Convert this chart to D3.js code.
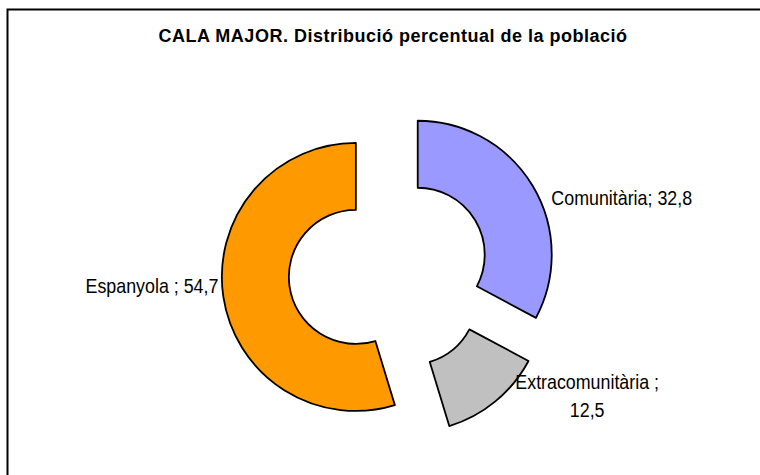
<!DOCTYPE html>
<html>
<head>
<meta charset="utf-8">
<script src="https://cdn.jsdelivr.net/npm/d3@7"></script>
<style>
  body { margin: 0; background: #fff; }
  text { font-family: "Liberation Sans", Arial, sans-serif; fill: #000; }
</style>
</head>
<body>
<div id="chart"></div>
<script>
// chart data
const title = "CALA MAJOR. Distribució percentual de la població";
const categories = ["Comunitària", "Extracomunitària", "Espanyola"];
const values = [32.8, 12.5, 54.7];
const labels = [["Comunitària; 32,8"], ["Extracomunitària ;", "12,5"], ["Espanyola ; 54,7"]];
const colors = ["#9999FF", "#C0C0C0", "#FF9900"];

const width = 760;
const height = 475;

// pie geometry
const cx = 389, cy = 272;
const outerR = 134;
const innerR = 67;
const explode = 33.5;

// label placement relative to each slice's mid angle
const labelLayout = [
    { r: 150, dx: 5, dy: 27, anchor: "start" },
    { r: 140, dx: 88, dy: -17, anchor: "middle" },
    { r: 140, dx: 1, dy: -5, anchor: "end" }
];

const svg = d3.select("#chart").append("svg")
    .attr("width", width)
    .attr("height", height);

// outer frame (cut off at right and bottom like the original)
svg.append("rect")
    .attr("x", 7.5)
    .attr("y", 9.5)
    .attr("width", width + 20)
    .attr("height", height + 20)
    .attr("fill", "#fff")
    .attr("stroke", "#000")
    .attr("stroke-width", 2);

svg.append("text")
    .attr("x", 393)
    .attr("y", 42)
    .attr("text-anchor", "middle")
    .attr("font-weight", "bold")
    .attr("font-size", 18)
    .attr("letter-spacing", 0.5)
    .text(title);

const pie = d3.pie().sort(null).value(d => d);
const arcs = pie(values);

const arc = d3.arc()
    .innerRadius(innerR)
    .outerRadius(outerR);

const offset = d => {
    const a = (d.startAngle + d.endAngle) / 2;
    return [Math.sin(a) * explode, -Math.cos(a) * explode];
};

const g = svg.append("g")
    .attr("transform", `translate(${cx},${cy})`);

g.selectAll("path.slice")
    .data(arcs)
    .join("path")
    .attr("class", "slice")
    .attr("transform", d => `translate(${offset(d)})`)
    .attr("d", arc)
    .attr("fill", (d, i) => colors[i])
    .attr("stroke", "#000")
    .attr("stroke-width", 1.8)
    .attr("stroke-linejoin", "round");

// data labels (the original text is a little condensed)
const lbl = g.selectAll("text.label")
    .data(arcs)
    .join("text")
    .attr("class", "label")
    .attr("font-size", 21)
    .attr("text-anchor", (d, i) => labelLayout[i].anchor)
    .attr("transform", (d, i) => {
        const a = (d.startAngle + d.endAngle) / 2;
        const [ox, oy] = offset(d);
        const L = labelLayout[i];
        const x = ox + Math.sin(a) * L.r + L.dx;
        const y = oy - Math.cos(a) * L.r + L.dy;
        return `translate(${x},${y}) scale(0.85,1)`;
    });

lbl.selectAll("tspan")
    .data((d, i) => labels[i])
    .join("tspan")
    .attr("x", 0)
    .attr("dy", (d, j) => j === 0 ? 0 : 28)
    .text(d => d);
</script>
</body>
</html>
